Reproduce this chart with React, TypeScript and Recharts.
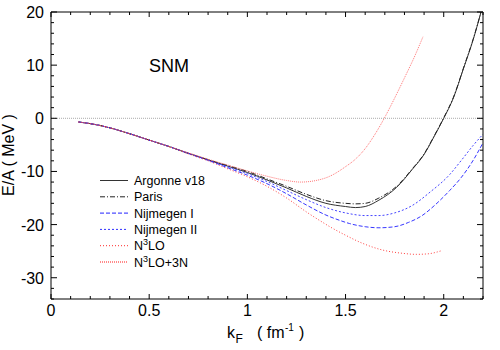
import React from 'react';
import { LineChart, Line, XAxis, YAxis, ReferenceLine, Legend } from 'recharts';

const argonneV18 = [
  { k: 0.14, e: -0.7 }, { k: 0.2, e: -1.0 }, { k: 0.3, e: -1.8 }, { k: 0.4, e: -2.9 }, { k: 0.5, e: -4.1 },
  { k: 0.6, e: -5.3 }, { k: 0.7, e: -6.6 }, { k: 0.8, e: -7.8 }, { k: 0.9, e: -9.0 }, { k: 1.0, e: -10.2 },
  { k: 1.1, e: -11.6 }, { k: 1.2, e: -13.1 }, { k: 1.3, e: -14.7 }, { k: 1.4, e: -16.0 }, { k: 1.5, e: -16.6 },
  { k: 1.55, e: -16.8 }, { k: 1.6, e: -16.6 }, { k: 1.67, e: -15.4 }, { k: 1.76, e: -13.0 }, { k: 1.84, e: -9.6 },
  { k: 1.9, e: -6.8 }, { k: 1.95, e: -3.5 }, { k: 2.0, e: 0.0 }, { k: 2.05, e: 3.9 }, { k: 2.1, e: 9.3 },
  { k: 2.15, e: 14.8 }, { k: 2.19, e: 20.0 },
];

const paris = [
  { k: 0.14, e: -0.7 }, { k: 0.2, e: -1.0 }, { k: 0.3, e: -1.8 }, { k: 0.4, e: -2.9 }, { k: 0.5, e: -4.1 },
  { k: 0.6, e: -5.3 }, { k: 0.7, e: -6.6 }, { k: 0.8, e: -7.8 }, { k: 0.9, e: -8.9 }, { k: 1.0, e: -10.0 },
  { k: 1.1, e: -11.4 }, { k: 1.2, e: -12.8 }, { k: 1.3, e: -14.3 }, { k: 1.4, e: -15.5 }, { k: 1.5, e: -16.0 },
  { k: 1.55, e: -16.1 }, { k: 1.6, e: -16.0 }, { k: 1.67, e: -15.0 }, { k: 1.76, e: -12.8 }, { k: 1.84, e: -9.5 },
  { k: 1.9, e: -6.7 }, { k: 1.95, e: -3.4 }, { k: 2.0, e: 0.1 }, { k: 2.05, e: 4.0 }, { k: 2.1, e: 9.4 },
  { k: 2.15, e: 14.9 }, { k: 2.19, e: 20.0 },
];

const nijmegenI = [
  { k: 0.14, e: -0.7 }, { k: 0.2, e: -1.0 }, { k: 0.3, e: -1.8 }, { k: 0.4, e: -2.9 }, { k: 0.5, e: -4.1 },
  { k: 0.6, e: -5.3 }, { k: 0.7, e: -6.6 }, { k: 0.8, e: -7.9 }, { k: 0.9, e: -9.3 }, { k: 1.0, e: -10.7 },
  { k: 1.1, e: -12.3 }, { k: 1.2, e: -14.2 }, { k: 1.3, e: -16.3 }, { k: 1.4, e: -18.2 }, { k: 1.47, e: -19.2 },
  { k: 1.52, e: -19.8 }, { k: 1.6, e: -20.4 }, { k: 1.67, e: -20.6 }, { k: 1.75, e: -20.4 }, { k: 1.82, e: -19.6 },
  { k: 1.89, e: -18.3 }, { k: 1.95, e: -16.5 }, { k: 2.03, e: -13.6 }, { k: 2.09, e: -11.1 }, { k: 2.15, e: -7.9 },
  { k: 2.2, e: -4.6 },
];

const nijmegenII = [
  { k: 0.14, e: -0.7 }, { k: 0.2, e: -1.0 }, { k: 0.3, e: -1.8 }, { k: 0.4, e: -2.9 }, { k: 0.5, e: -4.1 },
  { k: 0.6, e: -5.3 }, { k: 0.7, e: -6.6 }, { k: 0.8, e: -7.9 }, { k: 0.9, e: -9.1 }, { k: 1.0, e: -10.4 },
  { k: 1.1, e: -11.9 }, { k: 1.2, e: -13.6 }, { k: 1.3, e: -15.3 }, { k: 1.4, e: -16.8 }, { k: 1.5, e: -17.8 },
  { k: 1.6, e: -18.3 }, { k: 1.67, e: -18.3 }, { k: 1.75, e: -17.8 }, { k: 1.84, e: -16.4 }, { k: 1.93, e: -13.9 },
  { k: 2.03, e: -10.6 }, { k: 2.09, e: -7.9 }, { k: 2.15, e: -5.1 }, { k: 2.2, e: -3.0 },
];

const n3lo = [
  { k: 0.14, e: -0.7 }, { k: 0.2, e: -1.0 }, { k: 0.3, e: -1.8 }, { k: 0.4, e: -2.9 }, { k: 0.5, e: -4.1 },
  { k: 0.6, e: -5.3 }, { k: 0.7, e: -6.7 }, { k: 0.8, e: -8.0 }, { k: 0.9, e: -9.5 }, { k: 1.0, e: -11.0 },
  { k: 1.1, e: -12.8 }, { k: 1.2, e: -15.0 }, { k: 1.3, e: -17.6 }, { k: 1.38, e: -19.5 }, { k: 1.42, e: -20.4 },
  { k: 1.5, e: -22.0 }, { k: 1.585, e: -23.5 }, { k: 1.69, e: -24.8 }, { k: 1.79, e: -25.4 }, { k: 1.86, e: -25.6 },
  { k: 1.92, e: -25.5 }, { k: 1.99, e: -24.9 },
];

const n3lo3n = [
  { k: 0.14, e: -0.7 }, { k: 0.2, e: -1.0 }, { k: 0.3, e: -1.8 }, { k: 0.4, e: -2.9 }, { k: 0.5, e: -4.1 },
  { k: 0.6, e: -5.3 }, { k: 0.7, e: -6.5 }, { k: 0.8, e: -7.7 }, { k: 0.9, e: -8.8 }, { k: 1.0, e: -9.9 },
  { k: 1.1, e: -10.9 }, { k: 1.2, e: -11.7 }, { k: 1.27, e: -12.0 }, { k: 1.35, e: -11.7 }, { k: 1.42, e: -10.9 },
  { k: 1.5, e: -9.1 }, { k: 1.55, e: -7.7 }, { k: 1.6, e: -5.7 }, { k: 1.65, e: -3.0 }, { k: 1.7, e: 0.2 },
  { k: 1.75, e: 3.8 }, { k: 1.8, e: 7.6 }, { k: 1.85, e: 11.5 }, { k: 1.895, e: 15.4 },
];

const seriesNames = ['Argonne v18', 'Paris', 'Nijmegen I', 'Nijmegen II', 'N3LO', 'N3LO+3N'];

const xMinorTicks = [0, 0.1, 0.2, 0.3, 0.4, 0.5, 0.6, 0.7, 0.8, 0.9, 1, 1.1, 1.2, 1.3, 1.4, 1.5, 1.6, 1.7, 1.8, 1.9, 2, 2.1, 2.2];
const xMajorTicks = [0, 0.5, 1, 1.5, 2];
const yMinorTicks = [-34, -32, -30, -28, -26, -24, -22, -20, -18, -16, -14, -12, -10, -8, -6, -4, -2, 0, 2, 4, 6, 8, 10, 12, 14, 16, 18, 20];
const yMajorTicks = [-30, -20, -10, 0, 10, 20];

const FONT = '"Liberation Sans", Arial, Helvetica, sans-serif';

const styles = [
  { color: '#333333', dash: undefined as string | undefined, width: 1, legendWidth: 1 },
  { color: '#222222', dash: '5 2 1 2', width: 1, legendWidth: 1 },
  { color: '#2020ff', dash: '4 2', width: 0.9, legendWidth: 1 },
  { color: '#3030ff', dash: '2 2', width: 0.9, legendWidth: 1 },
  { color: '#ff2a2a', dash: '1 2', width: 0.9, legendWidth: 1 },
  { color: '#ff6666', dash: '1 1', width: 0.9, legendWidth: 1.6 },
];
const allData = [argonneV18, paris, nijmegenI, nijmegenII, n3lo, n3lo3n];

const isIn = (arr: number[], v: number) => arr.some((t) => Math.abs(t - v) < 1e-6);
const fmt = (v: number) => String(Math.round(v * 10) / 10);

const BottomTick = (p: any) => {
  const { x, y, payload } = p;
  const major = isIn(xMajorTicks, payload.value);
  return (
    <g>
      <line x1={x} x2={x} y1={y} y2={y - (major ? 5 : 3)} stroke="#000" />
      {major && (
        <text x={x} y={y + 17} textAnchor="middle" fontSize={16} fontFamily={FONT} fill="#000">
          {fmt(payload.value)}
        </text>
      )}
    </g>
  );
};
const TopTick = (p: any) => {
  const { x, y, payload } = p;
  const major = isIn(xMajorTicks, payload.value);
  return <line x1={x} x2={x} y1={y} y2={y + (major ? 5 : 3)} stroke="#000" />;
};
const LeftTick = (p: any) => {
  const { x, y, payload } = p;
  const major = isIn(yMajorTicks, payload.value);
  return (
    <g>
      <line x1={x} x2={x + (major ? 6 : 3)} y1={y} y2={y} stroke="#000" />
      {major && (
        <text x={x - 7} y={y + 6} textAnchor="end" fontSize={16} fontFamily={FONT} fill="#000">
          {fmt(payload.value)}
        </text>
      )}
    </g>
  );
};
const RightTick = (p: any) => {
  const { x, y, payload } = p;
  const major = isIn(yMajorTicks, payload.value);
  return <line x1={x} x2={x - (major ? 6 : 3)} y1={y} y2={y} stroke="#000" />;
};

const renderLegend = () => (
  <svg width={140} height={100} style={{ display: 'block' }}>
    {seriesNames.map((name, i) => {
      const cy = 8.5 + i * 16.3;
      const s = styles[i];
      const sup = name.startsWith('N3LO');
      return (
        <g key={name}>
          <line x1={5} x2={33} y1={cy} y2={cy} stroke={s.color} strokeDasharray={s.dash} strokeWidth={s.legendWidth} />
          <text x={39} y={cy + 4.5} fontSize={12.5} fontFamily={FONT} fill="#000">
            {sup ? (
              <>
                N<tspan fontSize={9} dy={-5}>3</tspan>
                <tspan dy={5}>{name.slice(2)}</tspan>
              </>
            ) : (
              name
            )}
          </text>
        </g>
      );
    })}
  </svg>
);

export default function App() {
  return (
    <div style={{ position: 'absolute', left: 0, top: 0, width: 500, height: 350, background: '#fff' }}>
      <LineChart width={500} height={350} margin={{ top: 0, right: 0, bottom: 0, left: 0 }}>
        <XAxis
          xAxisId="b"
          dataKey="k"
          type="number"
          domain={[0, 2.2]}
          ticks={xMinorTicks}
          interval={0}
          allowDataOverflow
          orientation="bottom"
          height={51}
          tickSize={0}
          tickMargin={0}
          tickLine={false}
          tick={<BottomTick />}
          axisLine={{ stroke: '#000' }}
        />
        <XAxis
          xAxisId="t"
          dataKey="k"
          type="number"
          domain={[0, 2.2]}
          ticks={xMinorTicks}
          interval={0}
          allowDataOverflow
          orientation="top"
          height={12}
          tickSize={0}
          tickMargin={0}
          tickLine={false}
          tick={<TopTick />}
          axisLine={{ stroke: '#000' }}
        />
        <YAxis
          yAxisId="l"
          type="number"
          domain={[-34, 20]}
          ticks={yMinorTicks}
          interval={0}
          allowDataOverflow
          orientation="left"
          width={51}
          tickSize={0}
          tickMargin={0}
          tickLine={false}
          tick={<LeftTick />}
          axisLine={{ stroke: '#000' }}
        />
        <YAxis
          yAxisId="r"
          type="number"
          domain={[-34, 20]}
          ticks={yMinorTicks}
          interval={0}
          allowDataOverflow
          orientation="right"
          width={17}
          tickSize={0}
          tickMargin={0}
          tickLine={false}
          tick={<RightTick />}
          axisLine={{ stroke: '#000' }}
        />
        <ReferenceLine xAxisId="b" yAxisId="l" y={0} stroke="#aaa" strokeDasharray="1 1" />
        {allData.map((d, i) => (
          <Line
            key={seriesNames[i]}
            xAxisId="b"
            yAxisId="l"
            data={d}
            dataKey="e"
            name={seriesNames[i]}
            type="monotone"
            stroke={styles[i].color}
            strokeWidth={styles[i].width}
            strokeDasharray={styles[i].dash}
            dot={false}
            activeDot={false}
            isAnimationActive={false}
          />
        ))}
        <Legend
          layout="horizontal"
          verticalAlign="middle"
          align="center"
          content={renderLegend}
          wrapperStyle={{ left: 95, top: 172, width: 140, height: 100 }}
        />
      </LineChart>
      <svg
        width={500}
        height={350}
        style={{ position: 'absolute', left: 0, top: 0, pointerEvents: 'none' }}
      >
        <text x={149} y={72} fontSize={18} fontFamily={FONT} fill="#000">SNM</text>
        <text
          transform="translate(14,155) rotate(-90)"
          textAnchor="middle"
          fontSize={16}
          fontFamily={FONT}
          fill="#000"
        >
          E/A ( MeV )
        </text>
        <text x={227} y={338} fontSize={16} fontFamily={FONT} fill="#000">k</text>
        <text x={235.5} y={343} fontSize={12} fontFamily={FONT} fill="#000">F</text>
        <text x={257} y={338} fontSize={16} fontFamily={FONT} fill="#000">( fm</text>
        <text x={285} y={331} fontSize={10} fontFamily={FONT} fill="#000">-1</text>
        <text x={299} y={338} fontSize={16} fontFamily={FONT} fill="#000">)</text>
      </svg>
    </div>
  );
}
